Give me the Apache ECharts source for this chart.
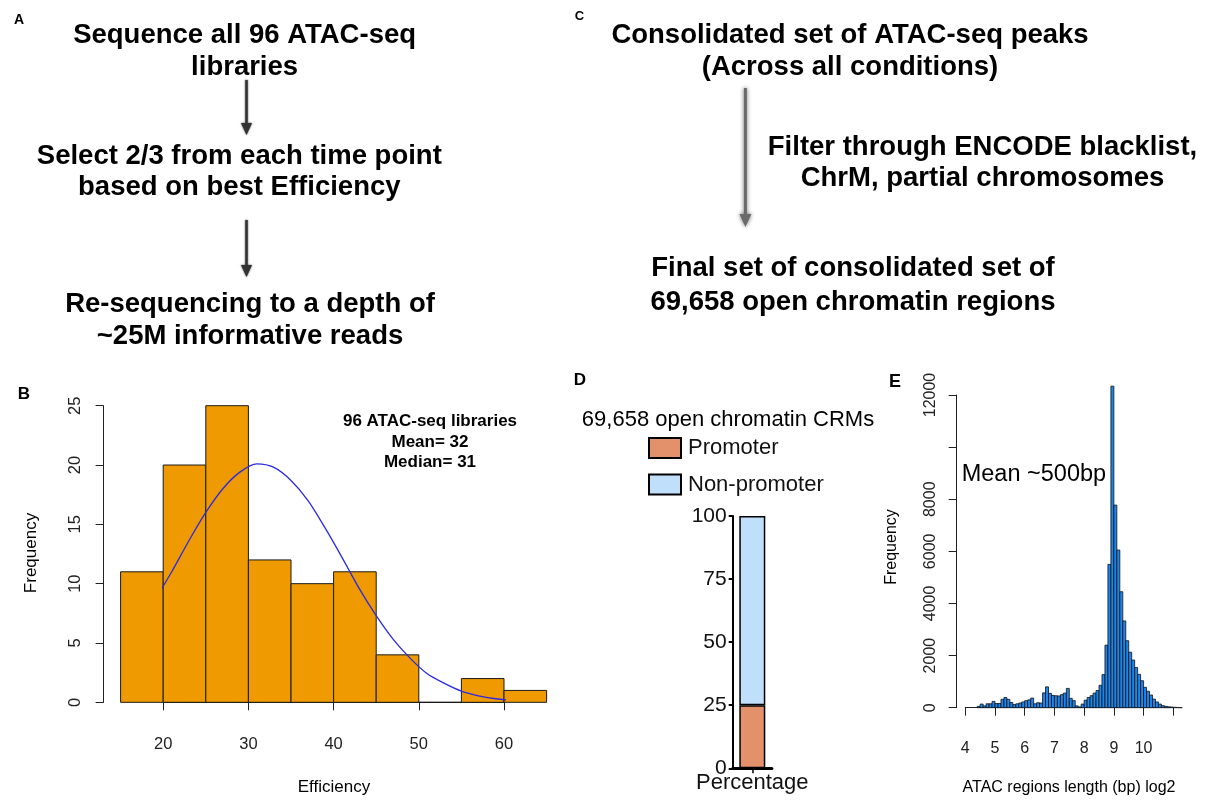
<!DOCTYPE html>
<html>
<head>
<meta charset="utf-8">
<script src="https://cdn.jsdelivr.net/npm/echarts@6/dist/echarts.min.js"></script>
<style>
  html, body { margin: 0; padding: 0; background: #fff; }
  #main { width: 1206px; height: 800px; }
</style>
</head>
<body>
<div id="main"></div>
<script>
const FONT = "'Liberation Sans', Arial, Helvetica, sans-serif";

// panel A / C flow text
const stepsA = [
  'Sequence all 96 ATAC-seq\nlibraries',
  'Select 2/3 from each time point\nbased on best Efficiency',
  'Re-sequencing to a depth of\n~25M informative reads'
];
const stepsC = [
  'Consolidated set of ATAC-seq peaks\n(Across all conditions)',
  'Filter through ENCODE blacklist,\nChrM, partial chromosomes',
  'Final set of consolidated set of\n69,658 open chromatin regions'
];

// panel B: efficiency histogram (bins of 5)
const effBinStart = [15, 20, 25, 30, 35, 40, 45, 50, 55, 60];
const effCounts   = [11, 20, 25, 12, 10, 11, 4, 0, 2, 1];
const effBinWidth = 5;
// fitted curve
const curveX = [19, 21, 23, 25, 27, 29, 31, 33, 35, 37, 39, 41, 43, 45, 47, 49, 51, 53, 55, 57, 59, 61, 63];
const curveY = [8.6, 11.0, 13.6, 16.0, 18.0, 19.4, 20.1, 19.8, 18.7, 17.0, 14.7, 12.2, 9.6,
                7.3, 5.3, 3.7, 2.4, 1.6, 0.95, 0.55, 0.3, 0.16, 0.08];
const effNote = '96 ATAC-seq libraries\nMean= 32\nMedian= 31';

// panel D: stacked percentage
const crmTitle = '69,658 open chromatin CRMs';
const crmCategory = ['Percentage'];
const promoterPct = [25];
const nonPromoterPct = [75];

// panel E: region length histogram (log2, bins of 0.1)
const lenBinStart = [
  4.4, 4.5, 4.6, 4.7, 4.8, 4.9, 5.0, 5.1, 5.2, 5.3, 5.4, 5.5, 5.6, 5.7, 5.8, 5.9,
  6.0, 6.1, 6.2, 6.3, 6.4, 6.5, 6.6, 6.7, 6.8, 6.9, 7.0, 7.1, 7.2, 7.3, 7.4, 7.5,
  7.6, 7.7, 7.8, 7.9, 8.0, 8.1, 8.2, 8.3, 8.4, 8.5, 8.6, 8.7, 8.8, 8.9, 9.0, 9.1,
  9.2, 9.3, 9.4, 9.5, 9.6, 9.7, 9.8, 9.9, 10.0, 10.1, 10.2, 10.3, 10.4, 10.5, 10.6,
  10.7, 10.8, 10.9, 11.0, 11.1, 11.2
];
const lenCounts = [
  50, 140, 70, 150, 150, 240, 160, 160, 320, 390, 320, 200, 120, 150, 180, 220,
  270, 300, 370, 150, 190, 180, 570, 800, 550, 470, 460, 450, 500, 560, 740, 360,
  270, 70, 30, 140, 290, 390, 460, 560, 660, 860, 1270, 2400, 5500, 12340, 7775, 6050,
  4450, 3330, 2570, 2130, 1830, 1540, 1280, 1035, 780, 630, 486, 330, 220, 140, 80,
  50, 35, 25, 15, 10, 5
];
const lenBinWidth = 0.1;
const lenNote = 'Mean ~500bp';

const chart = echarts.init(document.getElementById('main'), null, { renderer: 'canvas' });

function histItem(fill, stroke, lw) {
  return function (params, api) {
    const p0 = api.coord([api.value(0), api.value(2)]);
    const p1 = api.coord([api.value(1), 0]);
    return {
      type: 'rect',
      shape: { x: p0[0], y: p0[1], width: p1[0] - p0[0], height: p1[1] - p0[1] },
      style: { fill: fill, stroke: stroke, lineWidth: lw }
    };
  };
}

function txt(text, x, y, size, weight, extra) {
  return Object.assign({
    type: 'text', x: x, y: y,
    style: {
      text: text, fill: '#000', align: 'center', verticalAlign: 'middle',
      font: (weight || 'normal') + ' ' + size + 'px ' + FONT
    }
  }, extra || {});
}

function arrow(x, y0, y1, color, lw, headW, headH, blur) {
  return [
    { type: 'line', shape: { x1: x, y1: y0, x2: x, y2: y1 - headH + 2 },
      style: { stroke: color, lineWidth: lw, shadowBlur: blur, shadowColor: color } },
    { type: 'polygon', shape: { points: [[x - headW / 2, y1 - headH], [x + headW / 2, y1 - headH], [x, y1]] },
      style: { fill: color, shadowBlur: blur, shadowColor: color } }
  ];
}

const axisCol = '#222';
const graphics = [
  txt('A', 19, 20, 14, 'bold'),
  txt('B', 24, 394, 17, 'bold'),
  txt('C', 579.5, 16, 13, 'bold'),
  txt('D', 580, 380, 17, 'bold'),
  txt('E', 895, 382, 18, 'bold')
];

const blocksA = [[244.6, 51, 32], [239.3, 171.5, 31], [250, 320, 32]];
stepsA.forEach((s, i) => {
  const g = txt(s, blocksA[i][0], blocksA[i][1], 27.5, 'bold');
  g.style.lineHeight = blocksA[i][2];
  graphics.push(g);
});
const blocksC = [[850, 51, 32], [982.5, 162.5, 31], [853, 285, 34]];
stepsC.forEach((s, i) => {
  const g = txt(s, blocksC[i][0], blocksC[i][1], 27.5, 'bold');
  g.style.lineHeight = blocksC[i][2];
  graphics.push(g);
});
graphics.push(...arrow(246.5, 80, 135, '#333', 2.4, 11, 12, 2));
graphics.push(...arrow(246.5, 220, 277, '#333', 2.4, 11, 12, 2));
graphics.push(...arrow(745.4, 88, 227, '#6a6a6a', 3, 12, 13, 4));

const note = txt(effNote, 430, 442, 17, 'bold');
note.style.lineHeight = 20.3;
graphics.push(note);
graphics.push(txt('Efficiency', 334, 787, 17));
graphics.push(txt('Frequency', 31.5, 553, 17, 'normal', { rotation: Math.PI / 2 }));
graphics.push(txt(crmTitle, 728, 420, 22));
const meanTxt = txt(lenNote, 961.7, 475, 23.5, 'normal');
meanTxt.style.align = 'left';
graphics.push(meanTxt);
graphics.push(txt('ATAC regions length (bp) log2', 1069, 788, 16));
graphics.push(txt('Frequency', 891.7, 547, 16, 'normal', { rotation: Math.PI / 2 }));

const option = {
  animation: false,
  backgroundColor: '#fff',
  textStyle: { fontFamily: FONT },
  grid: [
    { left: 163.2, width: 340.8, top: 405.7, height: 296.6 },
    { left: 732.7, width: 39.2, top: 516, height: 252.3 },
    { left: 965.3, width: 208, top: 395, height: 312.7 }
  ],
  legend: {
    data: ['Promoter', 'Non-promoter'],
    orient: 'vertical', left: 648, top: 437, padding: 0,
    itemWidth: 32, itemHeight: 20, itemGap: 14.5,
    icon: 'rect',
    itemStyle: { borderColor: '#000', borderWidth: 2 },
    textStyle: { fontSize: 22, color: '#111', fontFamily: FONT, padding: [0, 0, 0, 2] },
    selectedMode: false
  },
  xAxis: [
    {
      gridIndex: 0, type: 'value', min: 20, max: 60, interval: 10, offset: 12,
      axisLine: { show: true, lineStyle: { color: axisCol, width: 1 } },
      axisTick: { show: true, length: 8, lineStyle: { color: axisCol } },
      axisLabel: { fontSize: 16.5, color: axisCol, margin: 22 },
      splitLine: { show: false }
    },
    {
      gridIndex: 1, type: 'category', data: crmCategory,
      axisLine: { show: true, lineStyle: { color: '#000', width: 3 } },
      axisTick: { show: true, alignWithLabel: true, length: 5, lineStyle: { color: '#000', width: 1.5 } },
      axisLabel: { fontSize: 22, color: '#111', margin: 4 }
    },
    {
      gridIndex: 2, type: 'value', min: 4, max: 11, interval: 1, offset: 12.3,
      axisLine: { show: true, lineStyle: { color: axisCol, width: 1 } },
      axisTick: { show: true, length: 8, lineStyle: { color: axisCol } },
      axisLabel: { fontSize: 16, color: axisCol, margin: 21,
        formatter: v => (v === 11 ? '' : String(v)) },
      splitLine: { show: false }
    }
  ],
  yAxis: [
    {
      gridIndex: 0, type: 'value', min: 0, max: 25, interval: 5, offset: 59.6,
      axisLine: { show: true, lineStyle: { color: axisCol, width: 1 } },
      axisTick: { show: true, length: 8, lineStyle: { color: axisCol } },
      axisLabel: { fontSize: 16.5, color: axisCol, rotate: 90, margin: 20 },
      splitLine: { show: false }
    },
    {
      gridIndex: 1, type: 'value', min: 0, max: 100, interval: 25,
      axisLine: { show: true, lineStyle: { color: '#000', width: 2 } },
      axisTick: { show: true, length: 4, lineStyle: { color: '#000', width: 2 } },
      axisLabel: { fontSize: 21, color: '#111', margin: 6 },
      splitLine: { show: false }
    },
    {
      gridIndex: 2, type: 'value', min: 0, max: 12000, interval: 2000, offset: 8.6,
      axisLine: { show: true, lineStyle: { color: axisCol, width: 1 } },
      axisTick: { show: true, length: 8, lineStyle: { color: axisCol } },
      axisLabel: { fontSize: 16, color: axisCol, rotate: 90, margin: 18,
        formatter: v => (v === 10000 ? '' : String(v)) },
      splitLine: { show: false }
    }
  ],
  series: [
    {
      type: 'custom', name: 'Efficiency', xAxisIndex: 0, yAxisIndex: 0,
      renderItem: histItem('#EE9A00', '#1a1a1a', 1),
      encode: { x: [0, 1], y: 2 },
      data: effBinStart.map((s, i) => [s, s + effBinWidth, effCounts[i]]),
      z: 2
    },
    {
      type: 'line', name: 'Fit', xAxisIndex: 0, yAxisIndex: 0,
      data: curveX.map((x, i) => [x, curveY[i]]),
      smooth: 0.3, symbol: 'none', clip: false,
      lineStyle: { color: '#2a2ae6', width: 1.3 },
      z: 3
    },
    {
      type: 'bar', name: 'Promoter', xAxisIndex: 1, yAxisIndex: 1, stack: 'pct',
      data: promoterPct, barWidth: 26,
      itemStyle: { color: '#E3916B', borderColor: '#000', borderWidth: 1.5 }
    },
    {
      type: 'bar', name: 'Non-promoter', xAxisIndex: 1, yAxisIndex: 1, stack: 'pct',
      data: nonPromoterPct, barWidth: 26,
      itemStyle: { color: '#C0DFFB', borderColor: '#000', borderWidth: 1.5 }
    },
    {
      type: 'custom', name: 'Length', xAxisIndex: 2, yAxisIndex: 2,
      renderItem: histItem('#1C86EE', '#111', 0.8),
      encode: { x: [0, 1], y: 2 },
      data: lenBinStart.map((s, i) => [s, s + lenBinWidth, lenCounts[i]]),
      z: 2
    }
  ],
  graphic: graphics
};

chart.setOption(option);
</script>
</body>
</html>
